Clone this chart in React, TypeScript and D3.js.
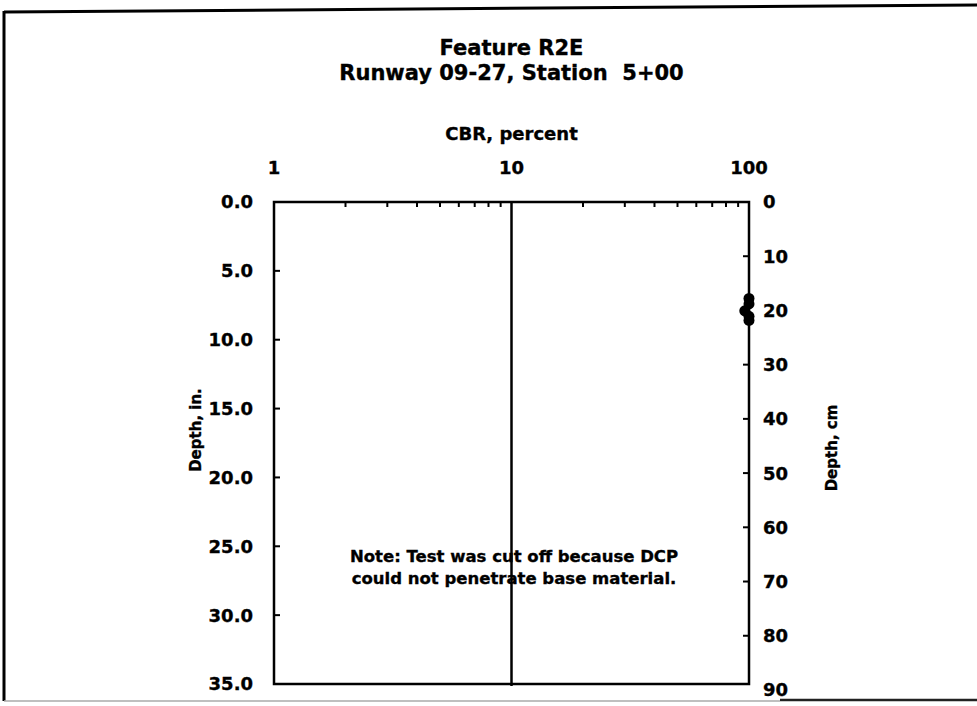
import React from "react";
import * as d3 from "d3";

const titleLines = ["Feature R2E", "Runway 09-27, Station  5+00"];
const xTitle = "CBR, percent";
const yLeftTitle = "Depth, in.";
const yRightTitle = "Depth, cm";
const noteLines = ["Note: Test was cut off because DCP", "could not penetrate base material."];

const cbrMajorTicks = [1, 10, 100];
const cbrMinorTicks = [2, 3, 4, 5, 6, 7, 8, 9, 20, 30, 40, 50, 60, 70, 80, 90];
const depthInTicks = [0, 5, 10, 15, 20, 25, 30, 35];
const depthCmTicks = [0, 10, 20, 30, 40, 50, 60, 70, 80, 90];

// measured points (CBR %, depth in.)
const pointCbr = [100, 100, 96, 100, 100];
const pointDepth = [7.0, 7.4, 7.9, 8.3, 8.6];
const referenceCbr = 10;

const FONT = "'DejaVu Sans', Arial, sans-serif";
const heavy = { stroke: "#000", strokeWidth: 0.35 };

export default function App() {
  const W = 977;
  const H = 706;
  const left = 274, right = 749, top = 202, bottom = 684;
  const x = d3.scaleLog().domain([1, 100]).range([left, right]);
  const yIn = d3.scaleLinear().domain([0, 35]).range([top, bottom]);
  const yCm = d3.scaleLinear().domain([0, 35 * 2.54]).range([top, bottom]);
  const pts = pointCbr.map((c, i) => ({ c, d: pointDepth[i] }));
  const line = d3
    .line<{ c: number; d: number }>()
    .x((p) => x(p.c))
    .y((p) => yIn(p.d));
  const cx = (left + right) / 2;

  return (
    <div style={{ position: "absolute", left: 0, top: 0, width: W, height: H, background: "#fff" }}>
      <svg width={W} height={H} style={{ display: "block" }}>
        <rect x={0} y={0} width={W} height={H} fill="#fff" />
        {/* outer frame */}
        <line x1={4} y1={12} x2={977} y2={5} stroke="#000" strokeWidth={3} />
        <line x1={4} y1={11} x2={4} y2={701} stroke="#000" strokeWidth={3} />
        <line x1={4} y1={701} x2={780} y2={701} stroke="#aaa" strokeWidth={1.5} />
        <line x1={780} y1={700} x2={977} y2={700} stroke="#222" strokeWidth={2.5} />

        {/* titles */}
        {titleLines.map((t, i) => (
          <text
            key={t}
            x={cx}
            y={55 + i * 25}
            textAnchor="middle"
            fontFamily={FONT}
            fontWeight="bold"
            fontSize={21}
            style={{ whiteSpace: "pre" }}
            xmlSpace="preserve"
            {...heavy}
          >
            {t}
          </text>
        ))}
        <text x={cx} y={140} textAnchor="middle" fontFamily={FONT} fontWeight="bold" fontSize={18} {...heavy}>
          {xTitle}
        </text>

        {/* top tick labels */}
        {cbrMajorTicks.map((t) => (
          <text key={t} x={x(t)} y={174} textAnchor="middle" fontFamily={FONT} fontWeight="bold" fontSize={18} {...heavy}>
            {t}
          </text>
        ))}

        {/* top minor ticks */}
        {cbrMinorTicks.map((t) => (
          <line key={t} x1={x(t)} x2={x(t)} y1={top} y2={top + 5} stroke="#000" strokeWidth={2} />
        ))}

        {/* left ticks & labels */}
        {depthInTicks.map((t) => (
          <g key={t}>
            {t > 0 && t < 35 && (
              <line x1={left} x2={left + 6} y1={yIn(t)} y2={yIn(t)} stroke="#000" strokeWidth={2} />
            )}
            <text
              x={253}
              y={yIn(t)}
              dy="0.36em"
              textAnchor="end"
              fontFamily={FONT}
              fontWeight="bold"
              fontSize={18}
              {...heavy}
            >
              {t.toFixed(1)}
            </text>
          </g>
        ))}

        {/* right ticks & labels */}
        {depthCmTicks.map((t) => (
          <g key={t}>
            {t > 0 && yCm(t) < bottom && (
              <line x1={right - 6} x2={right} y1={yCm(t)} y2={yCm(t)} stroke="#000" strokeWidth={2} />
            )}
            <text
              x={763}
              y={yCm(t)}
              dy="0.36em"
              textAnchor="start"
              fontFamily={FONT}
              fontWeight="bold"
              fontSize={18}
              {...heavy}
            >
              {t}
            </text>
          </g>
        ))}

        {/* plot box */}
        <rect x={left} y={top} width={right - left} height={bottom - top} fill="none" stroke="#000" strokeWidth={2.5} />

        {/* reference line */}
        <line x1={x(referenceCbr)} x2={x(referenceCbr)} y1={top} y2={bottom + 2} stroke="#000" strokeWidth={2.5} />

        {/* axis titles */}
        <text
          transform={`translate(196,430) rotate(-90)`}
          textAnchor="middle"
          dy="0.35em"
          fontFamily={FONT}
          fontWeight="bold"
          fontSize={15}
          {...heavy}
        >
          {yLeftTitle}
        </text>
        <text
          transform={`translate(832,448) rotate(-90)`}
          textAnchor="middle"
          dy="0.35em"
          fontFamily={FONT}
          fontWeight="bold"
          fontSize={15}
          {...heavy}
        >
          {yRightTitle}
        </text>

        {/* data */}
        <path d={line(pts) || ""} fill="none" stroke="#000" strokeWidth={3} />
        {pts.map((p, i) => (
          <circle key={i} cx={x(p.c)} cy={yIn(p.d)} r={5.5} fill="#000" />
        ))}

        {/* note */}
        {noteLines.map((t, i) => (
          <text
            key={t}
            x={514}
            y={562 + i * 22}
            textAnchor="middle"
            fontFamily={FONT}
            fontWeight="bold"
            fontSize={16.5}
            {...heavy}
          >
            {t}
          </text>
        ))}
      </svg>
    </div>
  );
}
